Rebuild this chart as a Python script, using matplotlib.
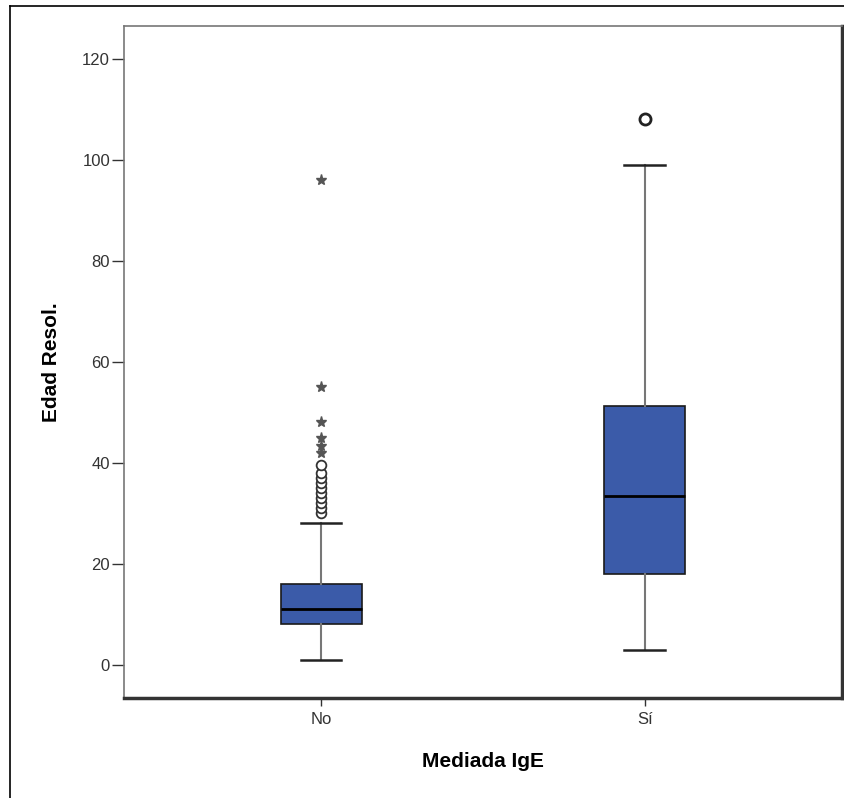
import matplotlib.pyplot as plt
from matplotlib.lines import Line2D

plt.rcParams['font.family'] = ['Liberation Sans', 'DejaVu Sans']

# data
groups = ['No', 'Sí']
whislo = [1, 3]
q1 = [8, 18]
med = [11, 33.4]
q3 = [16, 51.2]
whishi = [28, 99]
circles_no = [30, 31, 32, 33, 34, 35, 36, 37, 38, 39.5]
stars_no = [42, 43.3, 45, 48, 55, 96]
circles_si = [108]

fig = plt.figure(figsize=(8.45, 7.98), dpi=100)
ax = fig.add_axes([0.1467, 0.1257, 0.8497, 0.8417])

stats = []
for i in range(len(groups)):
    stats.append({'label': groups[i], 'whislo': whislo[i], 'q1': q1[i],
                  'med': med[i], 'q3': q3[i], 'whishi': whishi[i], 'fliers': []})

bp = ax.bxp(stats, positions=[1, 2], widths=0.25, showfliers=False,
            patch_artist=True,
            boxprops=dict(facecolor='#3B5BA9', edgecolor='#1a1a1a', linewidth=1.2),
            medianprops=dict(color='black', linewidth=2),
            whiskerprops=dict(color='#777777', linewidth=1.5),
            capprops=dict(color='#222222', linewidth=1.8),
            capwidths=0.125)

# outliers
ax.plot([1]*len(circles_no), circles_no, linestyle='none', marker='o',
        markersize=7, markerfacecolor='white', markeredgecolor='#333333',
        markeredgewidth=1.3)
ax.plot([1]*len(stars_no), stars_no, linestyle='none', marker='*',
        markersize=8, color='#555555')
ax.plot([2]*len(circles_si), circles_si, linestyle='none', marker='o',
        markersize=8, markerfacecolor='white', markeredgecolor='#222222',
        markeredgewidth=2)

ax.set_xlim(0.39, 2.61)
ax.set_ylim(-6.5, 126.5)
ax.set_yticks([0, 20, 40, 60, 80, 100, 120])
ax.set_xticks([1, 2])
ax.set_xticklabels(groups)
ax.tick_params(axis='both', labelsize=12, colors='#333333', width=1)
ax.tick_params(axis='y', length=9, pad=1)
ax.tick_params(axis='x', length=6, pad=4)

for s in ['left', 'top']:
    ax.spines[s].set_color('#777777')
    ax.spines[s].set_linewidth(1.2)
for s in ['right', 'bottom']:
    ax.spines[s].set_color('#333333')
    ax.spines[s].set_linewidth(2.5)

ax.set_ylabel('Edad Resol.', fontsize=15, fontweight='bold', labelpad=15)
ax.set_xlabel('Mediada IgE', fontsize=15, fontweight='bold', labelpad=18)

# outer frame (left and top only)
fig.add_artist(Line2D([10/845, 10/845], [0, 1 - 6/798], color='black', linewidth=1.2,
                      transform=fig.transFigure))
fig.add_artist(Line2D([10/845, 1], [1 - 6/798, 1 - 6/798], color='black', linewidth=1.2,
                      transform=fig.transFigure))

fig.savefig('out.png', dpi=100)
